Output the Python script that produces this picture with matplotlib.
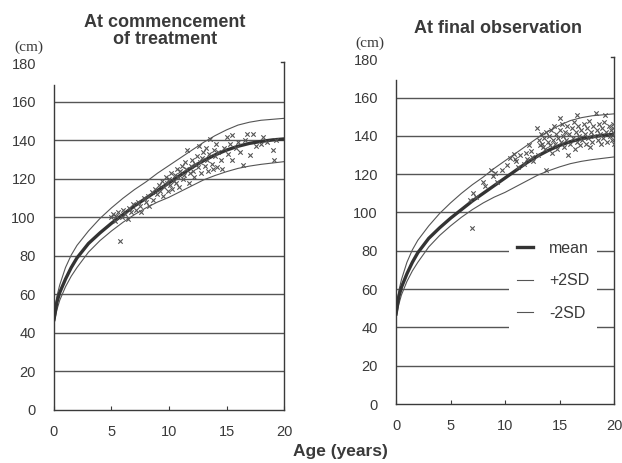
import matplotlib.pyplot as plt
from matplotlib.lines import Line2D

# reference growth curves (cm) at these ages (years)
ref_age = [0, 0.25, 0.5, 1, 1.5, 2, 3, 4, 5, 6, 7, 8, 9, 10, 11, 12, 13, 14, 15, 16, 17, 18, 19, 20]
ref_mean = [47, 56, 61, 68, 74, 79, 86.5, 92, 97, 101.5, 106, 110, 114, 118, 122, 126, 129.5,
            132.5, 135, 137, 138.5, 139.5, 140.3, 140.8]
ref_plus2sd = [49, 59, 65, 74, 80.5, 85.5, 93, 99.5, 105, 110, 114.5, 118.5, 123, 127, 131, 135,
               139, 142.5, 145.5, 148, 149.5, 150.5, 151, 151.5]
ref_minus2sd = [45, 52, 57, 64, 69.5, 74, 82, 88, 93, 97.5, 101.5, 105, 108, 110.5, 113.5, 116.5,
                119.5, 121.8, 123.8, 125.5, 126.7, 127.6, 128.3, 129]

# heights at commencement of treatment
start_age = [5.0, 5.1, 5.3, 5.4, 5.6, 5.7, 5.9, 6.0, 6.2, 6.4, 6.5, 6.7, 6.9, 7.1, 7.3, 7.5, 7.6,
             7.8, 8.0, 8.2, 8.3, 8.5, 8.6, 8.8, 9.0, 9.1, 9.2, 9.4, 9.5, 9.6, 9.7, 9.8, 9.9, 10.0,
             10.1, 10.2, 10.3, 10.4, 10.5, 10.6, 10.7, 10.8, 10.9, 11.0, 11.1, 11.2, 11.3, 11.4,
             11.5, 11.6, 11.7, 11.8, 11.9, 12.0, 12.1, 12.2, 12.3, 12.4, 12.5, 12.6, 12.7, 12.8,
             12.9, 13.0, 13.1, 13.2, 13.3, 13.4, 13.5, 13.6, 13.7, 13.8, 13.9, 14.0, 14.1, 14.2,
             14.3, 14.5, 14.6, 14.8, 15.0, 15.1, 15.3, 15.5, 15.5, 15.8, 16.0, 16.2, 16.4, 16.6,
             16.8, 17.0, 17.3, 17.6, 18.0, 18.2, 18.5, 19.0, 19.1, 19.3]
start_height = [100, 102, 98, 101, 103, 88, 100, 104, 102, 99, 105, 103, 107, 104, 108, 106, 103,
                110, 108, 111, 106, 113, 109, 115, 112, 117, 114, 119, 111, 116, 121, 118, 114, 120,
                117, 123, 115, 119, 122, 118, 125, 121, 116, 124, 127, 120, 122, 129, 125, 135, 118,
                123, 127, 130, 124, 121, 128, 132, 126, 137, 129, 123, 131, 134, 127, 136, 130, 124,
                133, 141, 128, 125, 135, 132, 138, 126, 134, 130, 125, 136, 142, 133, 138, 143, 130,
                136, 139, 134, 127.5, 140, 143.6, 132.7, 143.6, 137, 138, 142, 139, 135, 129.6, 140]

# heights at final observation
final_age = [6.8, 7.0, 7.1, 7.3, 8.0, 8.2, 8.7, 8.9, 9.1, 9.3, 9.7, 10.2, 10.5, 10.8, 10.9, 11.0,
             11.2, 11.4, 11.7, 11.9, 12.0, 12.2, 12.4, 12.5, 12.6, 12.9, 13.0, 13.1, 13.2, 13.3,
             13.4, 13.5, 13.6, 13.7, 13.8, 13.8, 13.9, 14.0, 14.1, 14.2, 14.3, 14.4, 14.5, 14.6,
             14.7, 14.8, 14.9, 15.0, 15.0, 15.1, 15.2, 15.3, 15.4, 15.5, 15.6, 15.7, 15.8, 15.9,
             16.0, 16.1, 16.2, 16.3, 16.4, 16.5, 16.6, 16.6, 16.7, 16.8, 16.9, 17.0, 17.1, 17.2,
             17.3, 17.4, 17.5, 17.6, 17.7, 17.8, 17.9, 18.0, 18.1, 18.2, 18.3, 18.4, 18.5, 18.6,
             18.7, 18.8, 18.9, 19.0, 19.1, 19.2, 19.3, 19.4, 19.5, 19.6, 19.7, 19.8, 19.9, 19.9,
             20.0, 20.0]
final_height = [106.5, 92, 110, 108, 116, 114, 122, 119, 120.5, 116, 122, 125, 128.6, 130.7, 128,
                127, 123.5, 130, 125.5, 131, 128, 135, 132, 129, 127, 144, 130, 138, 135, 141, 136,
                134, 139, 133, 142, 122, 137, 140, 135, 143, 131, 138, 145, 136, 141, 133, 139,
                149.5, 143, 137, 146, 140, 134, 142, 138, 145, 130, 141, 136, 144, 139, 147, 133,
                142, 151, 137, 145, 140, 135, 143, 138, 146, 141, 136, 144, 139, 148, 134, 142, 137,
                145, 140, 152, 143, 138, 146, 141, 136, 144, 139, 147, 151, 142, 137, 145, 140, 143,
                138, 146, 144, 141, 136]

y_ticks = [0, 20, 40, 60, 80, 100, 120, 140, 160, 180]
x_ticks = [0, 5, 10, 15, 20]

ink = '#3a3a3a'
plt.rcParams['font.family'] = ['Liberation Sans', 'DejaVu Sans']

fig = plt.figure(figsize=(6.22, 4.63), dpi=100)
ax1 = fig.add_axes([0.0868, 0.1145, 0.3698, 0.7484])
ax2 = fig.add_axes([0.6367, 0.1274, 0.3505, 0.7446])


def draw_panel(ax, ages, heights):
    for yv in y_ticks[1:-1]:
        ax.axhline(yv, color='#555555', lw=1.0, zorder=1)
    ax.plot(ref_age, ref_plus2sd, color='#555555', lw=0.8, zorder=2)
    ax.plot(ref_age, ref_minus2sd, color='#555555', lw=0.8, zorder=2)
    ax.plot(ref_age, ref_mean, color='#333333', lw=2.4, zorder=3)
    ax.scatter(ages, heights, marker='x', s=10, linewidths=0.8, color='#555555', zorder=4)
    ax.set_xlim(0, 20)
    ax.set_ylim(0, 180)
    ax.set_xticks(x_ticks)
    ax.set_yticks(y_ticks)
    ax.spines['top'].set_visible(False)
    ax.spines['left'].set_bounds(0, 169)
    ax.spines['right'].set_bounds(0, 181)
    for s in ('left', 'right', 'bottom'):
        ax.spines[s].set_color(ink)
        ax.spines[s].set_linewidth(1.0)
    ax.tick_params(axis='x', direction='in', length=3, color=ink, pad=11,
                   labelsize=10.5, labelcolor=ink)
    ax.tick_params(axis='y', length=0, pad=13, labelsize=10.5, labelcolor=ink)
    ax.plot([19.75, 20], [181, 181], color=ink, lw=1.0, clip_on=False)


draw_panel(ax1, start_age, start_height)
draw_panel(ax2, final_age, final_height)

handles = [Line2D([], [], color='#333333', lw=2.4),
           Line2D([], [], color='#555555', lw=0.8),
           Line2D([], [], color='#555555', lw=0.8)]
leg = ax2.legend(handles, ['mean', '+2SD', '-2SD'], loc='center',
                 bbox_to_anchor=(0.72, 0.357), frameon=True, fancybox=False,
                 framealpha=1, edgecolor='none', facecolor='white',
                 handlelength=1.0, handletextpad=1.0, labelspacing=1.1,
                 fontsize=11.5, borderpad=0.5, borderaxespad=0)
for t in leg.get_texts():
    t.set_color(ink)
leg.set_zorder(5)

fig.text(0.265, 0.933, 'At commencement\nof treatment', ha='center', va='center',
         fontsize=13, fontweight='bold', color=ink, linespacing=1.05)
fig.text(0.8006, 0.9395, 'At final observation', ha='center', va='center',
         fontsize=13, fontweight='bold', color=ink)
fig.text(0.0466, 0.898, '(cm)', ha='center', va='center', fontsize=11,
         family='Liberation Serif', color=ink)
fig.text(0.595, 0.907, '(cm)', ha='center', va='center', fontsize=11,
         family='Liberation Serif', color=ink)
fig.text(0.5466, 0.0238, 'Age (years)', ha='center', va='center', fontsize=12.5,
         fontweight='bold', color=ink)

fig.savefig('out.png', dpi=100)
